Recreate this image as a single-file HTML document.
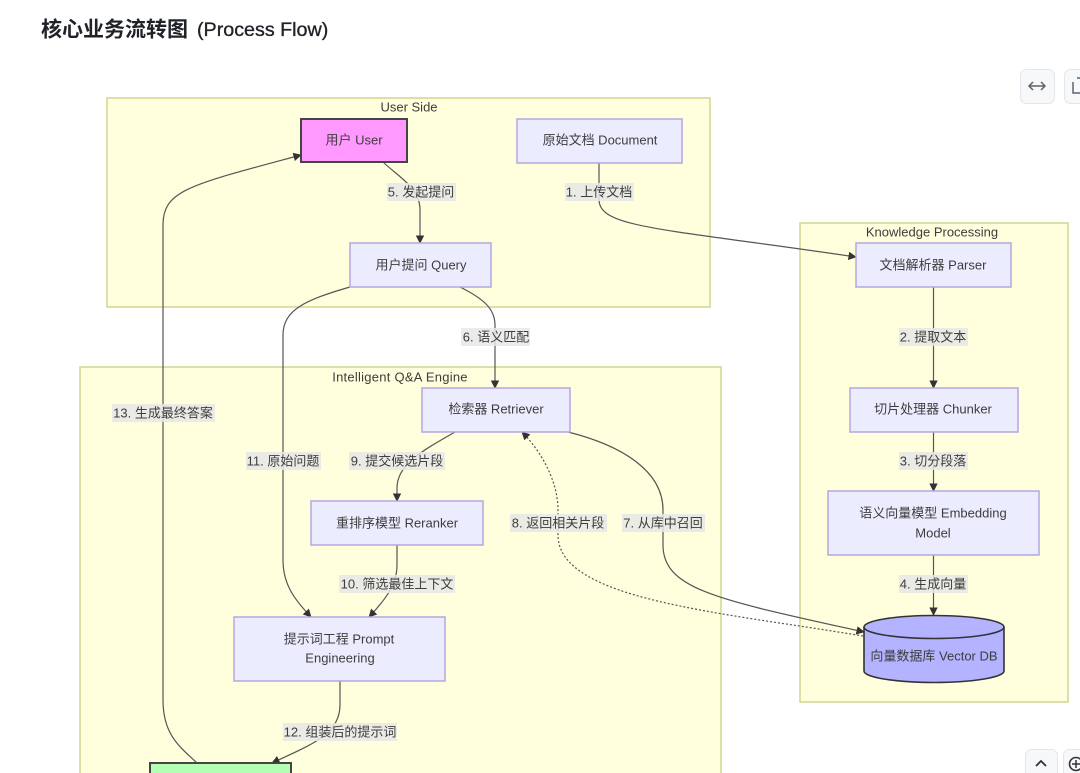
<!DOCTYPE html>
<html><head><meta charset="utf-8"><style>
html,body{margin:0;padding:0;background:#fff;width:1080px;height:773px;overflow:hidden}
svg{display:block;filter:blur(.35px)}
text{font-family:"Liberation Sans","Noto Sans CJK SC",sans-serif;fill:#3d3d3d;font-size:13px;text-anchor:middle;dominant-baseline:central}
.sg{fill:#ffffde;stroke:#d0d58e;stroke-width:1.5}
.n{fill:#ececff;stroke:#b5a6e0;stroke-width:1.5}
.e{fill:none;stroke:#555;stroke-width:1.2}
.l{fill:#e8e8e8;opacity:.85}
.b{fill:#f6f8fa;stroke:#e3e6ea}
</style></head><body>
<svg width="1080" height="773" viewBox="0 0 1080 773" xmlns="http://www.w3.org/2000/svg">
<defs><marker id="a" viewBox="0 0 10 10" refX="9" refY="5" markerWidth="7" markerHeight="7" orient="auto-start-reverse"><path d="M0 0L10 5L0 10z" fill="#333"/></marker></defs>
<text x="41" y="30" style="text-anchor:start;font-size:21px;fill:#1f2328;font-weight:bold">核心业务流转图</text>
<text x="197" y="30" style="text-anchor:start;font-size:19.7px;fill:#1f2328;stroke:#1f2328;stroke-width:.35">(Process Flow)</text>

<rect class="sg" x="107" y="98" width="603" height="209"/>
<rect class="sg" x="800" y="223" width="268" height="479"/>
<rect class="sg" x="80" y="367" width="641" height="420"/>
<text x="409" y="107">User Side</text>
<text x="932" y="232">Knowledge Processing</text>
<text x="400" y="377" style="letter-spacing:.25px">Intelligent Q&amp;A Engine</text>

<g>
<path class="e" marker-end="url(#a)" d="M197,763C180,747 163,735 163,700L163,225C163,190 190,185 301,155"/>
<path class="e" marker-end="url(#a)" d="M383,162C400,178 420,188 420,210L420,243"/>
<path class="e" marker-end="url(#a)" d="M599,163L599,200C600,228 660,228 856,257"/>
<path class="e" marker-end="url(#a)" d="M933.500,287L933.500,388"/>
<path class="e" marker-end="url(#a)" d="M933.500,432L933.500,491"/>
<path class="e" marker-end="url(#a)" d="M933.500,555L933.500,615"/>
<path class="e" marker-end="url(#a)" d="M460,287C482,298 495,308 495,325L495,388"/>
<path class="e" marker-end="url(#a)" d="M350,287C305,300 283,310 283,335L283,560C283,585 295,600 311,617"/>
<path class="e" marker-end="url(#a)" d="M455,432C420,452 397,465 397,488L397,501"/>
<path class="e" marker-end="url(#a)" d="M397,545L397,565C397,585 385,600 369,617"/>
<path class="e" marker-end="url(#a)" d="M340,681L340,705C340,735 310,745 272,763"/>
<path class="e" marker-end="url(#a)" d="M568,432C620,445 663,470 663,510L663,545C663,590 720,600 864,632"/>
<path class="e" stroke-dasharray="2 2" marker-end="url(#a)" d="M863,636C720,612 558,600 558,535L558,510C558,480 540,450 522,432"/>
</g>

<rect x="301" y="119" width="106" height="43" fill="#ff99ff" stroke="#444" stroke-width="2"/>
<text x="354" y="140">用户 User</text>
<rect class="n" x="517" y="119" width="165" height="44"/>
<text x="600" y="140">原始文档 Document</text>
<rect class="n" x="350" y="243" width="141" height="44"/>
<text x="421" y="265">用户提问 Query</text>
<rect class="n" x="856" y="243" width="155" height="44"/>
<text x="933" y="265">文档解析器 Parser</text>
<rect class="n" x="850" y="388" width="168" height="44"/>
<text x="933" y="409">切片处理器 Chunker</text>
<rect class="n" x="828" y="491" width="211" height="64"/>
<text x="933" y="513">语义向量模型 Embedding</text>
<text x="933" y="533">Model</text>
<rect class="n" x="422" y="388" width="148" height="44"/>
<text x="496" y="409">检索器 Retriever</text>
<rect class="n" x="311" y="501" width="172" height="44"/>
<text x="397" y="523">重排序模型 Reranker</text>
<rect class="n" x="234" y="617" width="211" height="64"/>
<text x="339" y="639">提示词工程 Prompt</text>
<text x="340" y="658">Engineering</text>
<rect x="150" y="763" width="141" height="30" fill="#b3ffb3" stroke="#444" stroke-width="2"/>

<path d="M864,627A70,11.5 0 0 1 1004,627L1004,671A70,11.5 0 0 1 864,671Z" fill="#b3b3ff" stroke="#333" stroke-width="1.6"/>
<path d="M864,627A70,11.5 0 0 0 1004,627" fill="none" stroke="#333" stroke-width="1.6"/>
<text x="934" y="656">向量数据库 Vector DB</text>

<rect class="l" x="387" y="183" width="69" height="18"/><text x="421" y="192">5. 发起提问</text>
<rect class="l" x="565" y="183" width="69" height="18"/><text x="599" y="192">1. 上传文档</text>
<rect class="l" x="899" y="328" width="69" height="18"/><text x="933" y="337">2. 提取文本</text>
<rect class="l" x="899" y="452" width="69" height="18"/><text x="933" y="461">3. 切分段落</text>
<rect class="l" x="899" y="575" width="69" height="18"/><text x="933" y="584">4. 生成向量</text>
<rect class="l" x="461" y="328" width="69" height="18"/><text x="496" y="337">6. 语义匹配</text>
<rect class="l" x="112" y="404" width="103" height="18"/><text x="163" y="413">13. 生成最终答案</text>
<rect class="l" x="246" y="452" width="75" height="18"/><text x="283" y="461">11. 原始问题</text>
<rect class="l" x="349" y="452" width="96" height="18"/><text x="397" y="461">9. 提交候选片段</text>
<rect class="l" x="510" y="514" width="97" height="18"/><text x="558" y="523">8. 返回相关片段</text>
<rect class="l" x="622" y="514" width="83" height="18"/><text x="663" y="523">7. 从库中召回</text>
<rect class="l" x="339" y="575" width="116" height="18"/><text x="397" y="584">10. 筛选最佳上下文</text>
<rect class="l" x="283" y="723" width="114" height="18"/><text x="340" y="732">12. 组装后的提示词</text>

<rect class="b" x="1020.5" y="69.5" width="34" height="34" rx="6"/>
<path d="M1030,86H1045M1033,82L1029,86L1033,90M1041,82L1045,86L1041,90" fill="none" stroke="#59636e" stroke-width="1.5"/>
<rect class="b" x="1064.5" y="69.5" width="34" height="34" rx="6"/>
<path d="M1073,82V93H1085M1077,78H1088V90" fill="none" stroke="#59636e" stroke-width="1.5"/>
<rect class="b" x="1025.5" y="749.5" width="32" height="34" rx="6"/>
<path d="M1036,766L1041,761L1046,766" fill="none" stroke="#333" stroke-width="1.8"/>
<rect class="b" x="1063.5" y="749.5" width="32" height="34" rx="6"/>
<circle cx="1076" cy="764" r="6.5" fill="none" stroke="#333" stroke-width="1.6"/>
<path d="M1072,764H1080M1076,760V768" stroke="#333" stroke-width="1.5"/>
</svg>
</body></html>
